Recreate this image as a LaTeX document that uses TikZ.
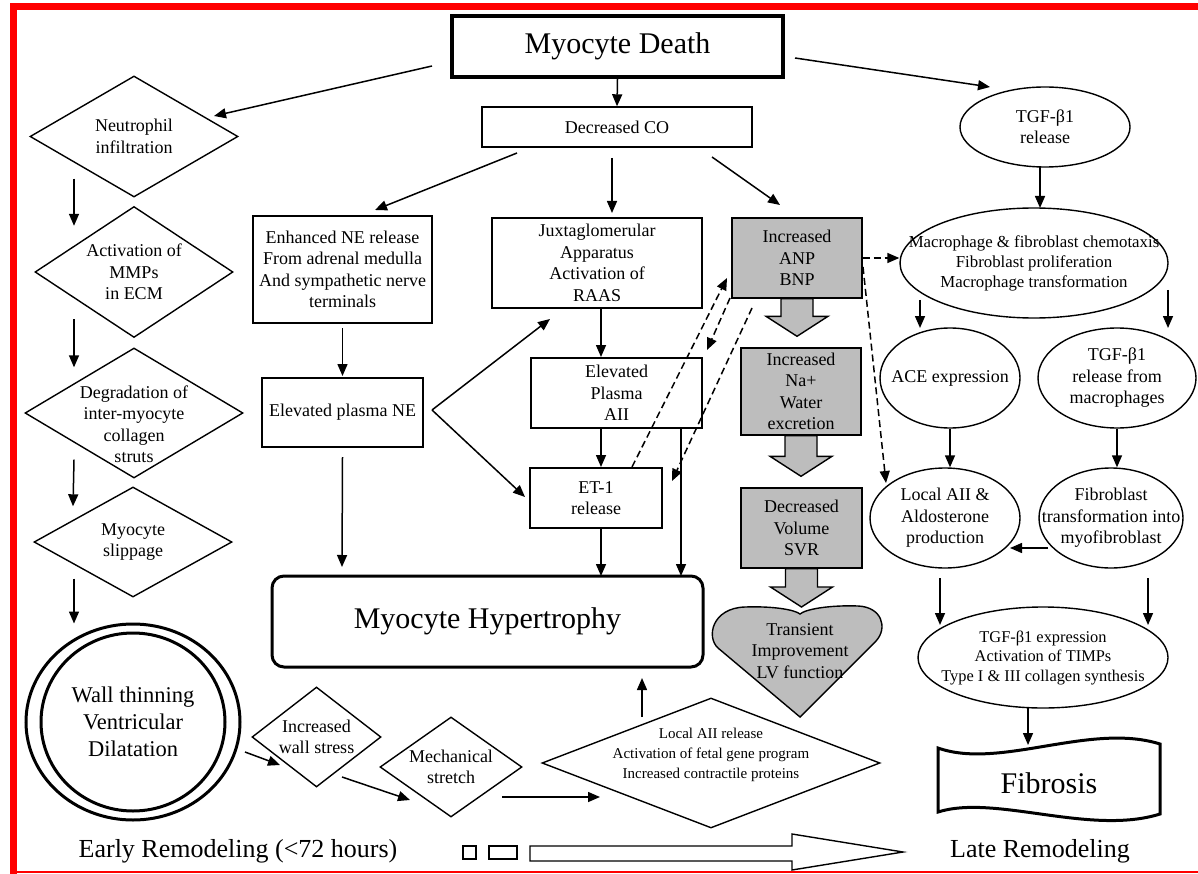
\documentclass[tikz,border=0pt]{standalone}
\usepackage{fontspec}
\setmainfont{Liberation Serif}
\usepackage{tikz}
\usetikzlibrary{arrows.meta,calc,shapes.geometric,backgrounds}
\definecolor{boxgray}{rgb}{0.74,0.74,0.74}
\newcommand{\fsN}{\fontsize{18}{21.5}\selectfont}
\newcommand{\fsS}{\fontsize{15}{20}\selectfont}
\newcommand{\fsM}{\fontsize{16.8}{20}\selectfont}
\newcommand{\fsT}{\fontsize{16.4}{19.5}\selectfont}
\newcommand{\fsL}{\fontsize{30}{36}\selectfont}
\newcommand{\fsR}{\fontsize{26}{30}\selectfont}
\newcommand{\fsW}{\fontsize{22.5}{27}\selectfont}
\tikzset{
  arr/.style={-{Triangle[length=12pt,width=10pt]}, line width=1.5pt},
  dsh/.style={arr, dashed, dash pattern=on 7pt off 4pt},
  rbox/.style 2 args={draw, line width=1.4pt, inner sep=0pt, align=center, font=\fsN,
    minimum width=#1pt, minimum height=#2pt},
  gbox/.style 2 args={rbox={#1}{#2}, fill=boxgray},
  dia/.style 2 args={draw, shape=diamond, line width=1.4pt, inner sep=0pt,
    minimum width=#1pt, minimum height=#2pt},
  ell/.style 2 args={draw, shape=ellipse, line width=1.4pt, inner sep=0pt,
    minimum width=#1pt, minimum height=#2pt},
  every label/.style={align=center, font=\fsN, inner sep=0pt},
  blk/.style={draw, line width=1.4pt, fill=boxgray},
}
% gray block arrow pointing down, from #1 to the tip #2
\newcommand{\blockdown}[2]{%
  \draw[blk] let \p1=(#1), \p2=(#2) in
    (\x1-16pt,\y1) -- (\x1-16pt,\y2+20pt) -- (\x1-31pt,\y2+20pt) -- (\x1,\y2)
    -- (\x1+31pt,\y2+20pt) -- (\x1+16pt,\y2+20pt) -- (\x1+16pt,\y1) -- cycle;}

\begin{document}
\begin{tikzpicture}[x=1pt,y=-1pt]
\useasboundingbox (0,0) rectangle (1198,874);
\begin{scope}[on background layer]
  \fill[white] (0,0) rectangle (1198,874);
\end{scope}
% red frame
\fill[red] (10,3) rectangle (1198,10);
\fill[red] (10,3) rectangle (17,874);
\fill[red] (10,870.5) rectangle (1198,872.5);

% top
\node[rbox={331}{61}, line width=3.5pt, font=\fsL] (death) at (617.5,46.5) {Myocyte Death};
\node[rbox={270}{40}] (co) at (617,127) {Decreased CO};

% left column
\node[dia={208}{121}, label={center:{Neutrophil\\infiltration}}] (neut) at (134,136.5) {};
\node[dia={198}{131}, label={center:{Activation of\\MMPs\\in ECM}}] (mmp) at (134,272) {};
\node[dia={218}{130}, label={[yshift=-11pt]center:{Degradation of\\inter-myocyte\\collagen\\struts}}] (degr) at (134,413) {};
\node[dia={198}{110}, label={center:{Myocyte\\slippage}}] (slip) at (133,542) {};
\node[ell={214}{196}, line width=3pt, label={[font=\fsW]center:{Wall thinning\\Ventricular\\Dilatation}}] (wall) at (133,722) {};
\draw[line width=3pt] (wall.center) ellipse (92 and 89);

% middle
\node[rbox={179}{107}] (ne) at (342.5,269.5) {Enhanced NE release\\From adrenal medulla\\And sympathetic nerve\\terminals};
\node[rbox={161}{69}] (nep) at (342.5,412.5) {Elevated plasma NE};
\node[rbox={210}{90}] (jg) at (597,263) {Juxtaglomerular\\Apparatus\\Activation of\\RAAS};
\node[rbox={171}{70}] (aii) at (616.5,393) {Elevated\\Plasma\\AII};
\node[rbox={132}{60}] (et) at (596,498) {ET-1\\release};
\node[gbox={130}{80}] (anp) at (797,258) {Increased\\ANP\\BNP};
\node[gbox={120}{87}] (na) at (801,391.5) {Increased\\Na+\\Water\\excretion};
\node[gbox={121}{80}] (vol) at (801.5,528) {Decreased\\Volume\\SVR};
\draw[line width=1.4pt, fill=boxgray] (800,717) -- (718,648)
  .. controls (706,637) and (712,608) .. (745,607)
  .. controls (775,606) and (795,610) .. (800,614)
  .. controls (806,609) and (830,605) .. (858,606)
  .. controls (882,607) and (888,628) .. (876,641) -- cycle;
\node[align=center, font=\fsN] (heart) at (800,651) {Transient\\Improvement\\LV function};
\coordinate (hearttop) at (801.5,607);
\node[rbox={431}{91}, rounded corners=12pt, line width=3pt, font=\fsL] (hyp) at (487.5,621.5) {Myocyte Hypertrophy};
\node[dia={129}{100}, label={center:{Increased\\wall stress}}] (stress) at (316.5,737) {};
\node[dia={142}{100}, label={center:{Mechanical\\stretch}}] (mech) at (451,767) {};
\node[dia={338}{130}, label={[font=\fsS, yshift=8pt]center:{Local AII release\\Activation of fetal gene program\\Increased contractile proteins}}] (lfg) at (711,763) {};

% right column
\node[ell={170}{80}, label={center:{TGF-β1\\release}}] (tgf) at (1045,127) {};
\node[ell={268}{110}, label={[font=\fsM]center:{Macrophage \& fibroblast chemotaxis\\Fibroblast proliferation\\Macrophage transformation}}] (macro) at (1034,263) {};
\node[ell={140}{100}, label={center:{ACE expression}}] (ace) at (950,378) {};
\node[ell={158}{100}, label={center:{TGF-β1\\release from\\macrophages}}] (tgfm) at (1117,378) {};
\node[ell={150}{100}, label={center:{Local AII \&\\Aldosterone\\production}}] (local) at (945,518) {};
\node[ell={144}{100}, label={center:{Fibroblast\\transformation into\\myofibroblast}}] (fibro) at (1111,518) {};
\node[ell={250}{101}, label={[font=\fsT]center:{TGF-β1 expression\\Activation of TIMPs\\Type I \& III collagen synthesis}}] (tgfx) at (1043,657.5) {};
% wavy banner
\draw[line width=3pt, fill=white] (938,748) .. controls (1000,770) and (1090,722) .. (1160,744)
  -- (1160,814) .. controls (1090,836) and (995,794) .. (938,812) -- cycle;
\node[font=\fsL] (fib) at (1049,783) {Fibrosis};

% bottom line
\node[font=\fsR] (early) at (238,851) {Early Remodeling (<72 hours)};
\node[font=\fsR] (late) at (1040,851) {Late Remodeling};
\draw[line width=1.4pt] (463,846) rectangle (476,859);
\draw[line width=1.4pt] (489,846) rectangle (517,859);
\draw[line width=1.4pt] (530,846) -- (792,846) -- (792,834) -- (903,852)
  -- (792,870) -- (792,861) -- (530,861) -- cycle;

% arrows
\foreach \a/\b in {neut/mmp,mmp/degr,degr/slip}
  \draw[arr] ($(\a.south)+(-60,-19)$) -- ($(\b.north)+(-60,20)$);
\draw[arr] ($(slip.south)+(-59,-19)$) -- ($(wall.north)+(-59,1)$);

\draw[arr] (death.south) -- (co.north);
\draw[arr] ($(death.center)+(-185.5,19.5)$) -- ($(neut.center)+(80,-20.5)$);
\draw[arr] ($(death.center)+(177.5,11.5)$) -- ($(tgf.center)+(-55,-40)$);
\draw[arr] ($(co.center)+(-100,26)$) -- ($(ne.center)+(32.5,-59.5)$);
\draw[arr] ($(co.center)+(-5,31)$) -- ($(jg.center)+(15,-50)$);
\draw[arr] ($(co.center)+(95,30)$) -- ($(anp.center)+(-17,-53)$);
\draw[arr] ($(ne.center)+(0,58.5)$) -- ($(nep.center)+(0,-36.5)$);
\draw[arr] ($(nep.center)+(0,44.5)$) -- ($(hyp.center)+(-145.5,-54.5)$);
\draw[arr] ($(nep.center)+(89.5,-2.5)$) -- ($(jg.center)+(-47,56)$);
\draw[arr] ($(nep.center)+(89.5,-2.5)$) -- ($(et.center)+(-71,-1)$);
\draw[arr] ($(jg.center)+(4,45)$) -- ($(aii.center)+(-15.5,-36)$);
\draw[arr] ($(aii.center)+(-15.5,35)$) -- ($(et.center)+(5,-31)$);
\draw[arr] ($(et.center)+(5,30)$) -- ($(hyp.center)+(113.5,-45.5)$);
\draw[arr] ($(aii.center)+(64.5,35)$) -- ($(hyp.center)+(193.5,-45.5)$);
\draw[dsh] ($(et.center)+(36,-31)$) -- ($(anp.center)+(-70,20)$);
\draw[dsh] ($(anp.center)+(-67,40)$) -- ($(aii.center)+(90.5,-43)$);
\draw[dsh] ($(anp.center)+(-45,50)$) -- ($(et.center)+(76,-17)$);
\draw[dsh] (anp.east) -- (anp.east -| macro.west);
\draw[dsh] ($(anp.center)+(66,9)$) -- ($(local.center)+(-59,-35)$);

\draw[arr] ($(tgf.center)+(-5,40)$) -- ($(macro.center)+(6,-55)$);
\draw[arr] ($(macro.center)+(-114,37)$) -- ($(ace.center)+(-30,-50)$);
\draw[arr] ($(macro.center)+(134,27)$) -- ($(tgfm.center)+(51,-50)$);
\draw[arr] (ace.south) -- (ace.south |- local.north);
\draw[arr] (tgfm.south) -- (tgfm.south |- fibro.north);
\draw[arr] ($(fibro.center)+(-63,30)$) -- ($(local.center)+(65,30)$);
\draw[arr] ($(local.center)+(-5,60)$) -- ($(tgfx.center)+(-103,-32.5)$);
\draw[arr] ($(fibro.center)+(37,60)$) -- ($(tgfx.center)+(105,-32.5)$);
\draw[arr] ($(tgfx.center)+(-15,50.5)$) -- ($(fib.center)+(-21,-38)$);

\draw[arr] ($(wall.center)+(112,30)$) -- ($(stress.center)+(-36.5,28)$);
\draw[arr] ($(stress.center)+(25.5,40)$) -- ($(mech.center)+(-41,33)$);
\draw[arr] ($(mech.center)+(51,30)$) -- ($(lfg.center)+(-111,34)$);
\draw[arr] ($(lfg.center)+(-69,-46)$) -- ($(hyp.center)+(154.5,56.5)$);

% gray block arrows
\begin{scope}[on background layer]
  \blockdown{anp.south}{$(na.north)+(0,-11)$}
  \blockdown{na.south}{$(vol.north)+(0,-11)$}
  \blockdown{vol.south}{hearttop}
\end{scope}
\end{tikzpicture}
\end{document}
